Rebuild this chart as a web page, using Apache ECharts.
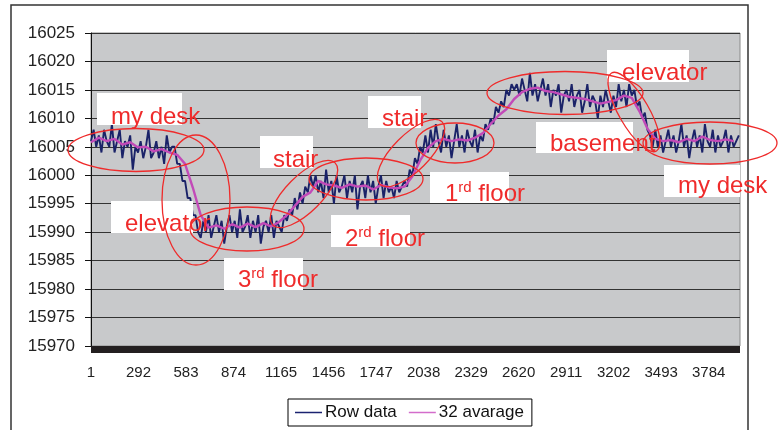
<!DOCTYPE html>
<html>
<head>
<meta charset="utf-8">
<script src="https://cdn.jsdelivr.net/npm/echarts@6/dist/echarts.min.js"></script>
<style>
    body{margin:0;background:#fff;}
    #main{width:781px;height:430px;}
</style>
</head>
<body>
<div id="main"></div>
<script>
// raw samples, one value every rawStep samples
var rawStep = 16;
var deskA = [16006,16008,16005,16007,16004,16008,16006,16005,16009,16004,16006,16008,16003,16006,16005,16007,
    16001,16005,16004,16006,16003,16005,16008,16003,16004,16006,16003,16005,16002,16007,16004,16005];
var elevatorDown = [16005,16002,16002,15999,15999,15996,15996,15993,15993,15990];
var floor3 = [15989,15992,15990,15993,15989,15991,15993,15990,15992,15988,15991,15993,15990,15992,15989,15994,
    15990,15991,15993,15989,15992,15990,15993,15988,15991,15992,15990,15993,15989,15992,15991];
var stair1 = [15990,15993,15992,15994,15993,15996,15994,15997,15995,15998,15997,16000,15998];
var floor2 = [16000,15997,15999,15996,16001,15997,15999,15995,16000,15997,15998,16000,15996,15999,15997,16000,
    15994,15998,15999,15996,16000,15997,15999,15995,15998,16000,15996,15999,15997,15998,15996,15999,15997,15998,15999];
var stair2 = [15998,16001,16000,16003,16002,16005,16004,16007];
var floor1 = [16004,16008,16005,16009,16006,16004,16008,16005,16007,16003,16006,16009,16005,16007,16004,16008,
    16006,16005,16008,16004,16007];
var riseUp = [16006,16009,16008,16010,16009,16012,16011,16013,16012,16015,16014,16016,16015];
var basement = [16016,16014,16017,16015,16013,16018,16014,16016,16013,16015,16017,16014,16016,16012,16015,16014,
    16016,16011,16014,16015,16013,16016,16012,16014,16015,16011,16013,16016,16012,16014,16013,16010,
    16014,16012,16015,16013,16011,16014,16012,16016,16013,16015,16012,16016,16014,16015];
var elevatorDown2 = [16012,16013,16010,16011,16008,16007];
var deskB = [16005,16008,16005,16007,16004,16006,16008,16005,16007,16004,16006,16009,16005,16007,16003,16006,
    16008,16005,16007,16004,16009,16006,16005,16008,16004,16007,16005,16006,16008,16004,16007,16005,16006,16007];

// 32 average, one value every avgStep samples
var avgStep = 48;
var avgValues = [16005.8,16006.6,16006.0,16006.4,16005.4,16005.8,16004.9,16005.0,16004.2,16004.6,16004.0,16003.6,
    16002.0,15997.8,15993.0,15990.8,15991.2,15990.6,15991.4,15990.8,15991.5,15990.9,15991.6,15991.0,15991.8,
    15993.0,15994.6,15996.2,15997.0,15999.0,15998.4,15998.2,15997.8,15998.4,15998.0,15998.2,15997.5,15998.3,
    15997.9,15997.7,15998.0,15999.8,16002.6,16004.8,16006.0,16006.4,16006.0,16006.3,16006.1,16006.6,16007.4,
    16009.0,16010.5,16011.6,16013.4,16014.6,16015.2,16015.4,16014.8,16014.6,16014.2,16013.8,16013.6,16013.4,
    16013.0,16012.6,16012.9,16013.2,16014.0,16013.6,16011.2,16008.2,16006.4,16006.0,16006.2,16005.8,16006.4,
    16006.0,16006.8,16006.2,16006.0,16006.3,16006.0];

var xMin = 1, xMax = 3976, xInterval = 291;
var yMin = 15970, yMax = 16025, yInterval = 5;
var legendData = ['Row data', '32 avarage'];

var red = '#ef2b2b';
var font = '"Liberation Sans", Arial, sans-serif';

function toSeries(values, step){
    var arr = [];
    for(var i=0;i<values.length;i++){
        arr.push([xMin + i*step, values[i]]);
    }
    return arr;
}

function plainNum(v){
    return String(v);
}

// white label box + red text
function noteBox(x, y, w, h){
    return {type:'rect', z:100, shape:{x:x, y:y, width:w, height:h}, style:{fill:'#fff'}};
}
function noteText(text, x, y){
    return {type:'text', z:101, x:x, y:y,
        style:{text:text, fill:red, font:'24px ' + font,
            verticalAlign:'middle', textVerticalAlign:'middle'}};
}
function floorText(num, x, y){
    return {type:'text', z:101, x:x, y:y,
        style:{text:'{n|'+num+'}{s|rd}{n| floor}', fill:red, verticalAlign:'middle', textVerticalAlign:'middle',
            rich:{
                n:{fontSize:24, fontFamily:font, color:red, lineHeight:28},
                s:{fontSize:15, fontFamily:font, color:red, verticalAlign:'top', lineHeight:28, padding:[0,0,10,0]}
            }}};
}
function ring(cx, cy, rx, ry, rot){
    return {type:'ellipse', z:102, x:cx, y:cy, rotation:rot || 0,
        shape:{cx:0, cy:0, rx:rx, ry:ry},
        style:{fill:null, stroke:red, lineWidth:1.3}};
}

var rawData = toSeries([].concat(deskA, elevatorDown, floor3, stair1, floor2, stair2, floor1,
    riseUp, basement, elevatorDown2, deskB), rawStep);
var avgData = toSeries(avgValues, avgStep);

var option = {
    animation: false,
    backgroundColor: '#fff',
    grid: {
        left: 91, top: 33, right: 41, bottom: 84,
        show: true,
        backgroundColor: '#c8c9cb',
        borderColor: '#8a8a8a',
        borderWidth: 1
    },
    legend: {
        data: legendData,
        left: 288, top: 399,
        icon: 'rect',
        itemWidth: 27, itemHeight: 1.5,
        itemGap: 12,
        padding: [5, 8, 5, 7],
        backgroundColor: '#fff',
        borderColor: '#000',
        borderWidth: 1,
        borderRadius: 0,
        textStyle: {color: '#111', fontSize: 17, fontFamily: font, padding: [0,0,0,-2]}
    },
    xAxis: {
        type: 'value',
        min: xMin, max: xMax, interval: xInterval,
        offset: 3.5,
        axisLine: {show: true, lineStyle: {color: '#231f20', width: 7, cap: 'butt'}},
        axisTick: {show: false},
        splitLine: {show: false},
        axisLabel: {
            showMaxLabel: false,
            formatter: plainNum,
            margin: 16,
            color: '#222',
            fontSize: 15,
            fontFamily: font
        }
    },
    yAxis: {
        type: 'value',
        min: yMin, max: yMax, interval: yInterval,
        axisLine: {show: true, lineStyle: {color: '#111', width: 1}},
        axisTick: {show: true, length: 6, lineStyle: {color: '#111'}},
        splitLine: {show: true, lineStyle: {color: '#333', width: 1.2}},
        axisLabel: {
            formatter: plainNum,
            margin: 16,
            color: '#222',
            fontSize: 17,
            fontFamily: font
        }
    },
    series: [
        {
            name: 'Row data',
            type: 'line',
            data: rawData,
            showSymbol: false,
            color: '#1b2370',
            lineStyle: {color: '#1a2268', width: 1.9}
        },
        {
            name: '32 avarage',
            type: 'line',
            data: avgData,
            showSymbol: false,
            color: '#d36ccb',
            lineStyle: {color: '#c24ab8', width: 2.4}
        }
    ],
    graphic: [
        {type:'rect', z:0, shape:{x:11, y:5, width:737, height:440}, style:{fill:null, stroke:'#333', lineWidth:1.5}},
        noteBox(97,93,85,32), noteText('my desk', 111, 117),
        noteBox(111,201,82,32), noteText('elevator', 125, 224),
        noteBox(224,258,79,32), floorText('3', 238, 280),
        noteBox(260,136,53,32), noteText('stair', 273, 160),
        noteBox(331,215,79,32), floorText('2', 345, 239),
        noteBox(368,96,53,32), noteText('stair', 382, 119),
        noteBox(430,172,79,31), floorText('1', 445, 194),
        noteBox(536,122,97,31), noteText('basement', 550, 144),
        noteBox(607,50,82,32), noteText('elevator', 622, 73),
        noteBox(664,165,76,32), noteText('my desk', 678, 186),
        ring(136,150,68,21.5),
        ring(196,200,34,65),
        ring(247,229,57,22),
        ring(304,194,44,18,Math.PI/4),
        ring(366,179,57,21),
        ring(411,153,44,18,Math.PI/4),
        ring(455,143,39,20),
        ring(565,93,78,21.5),
        ring(634,112,45,15,-Math.PI/3),
        ring(710,143,67,21)
    ]
};

var chart = echarts.init(document.getElementById('main'));
chart.setOption(option, true);
</script>
</body>
</html>
